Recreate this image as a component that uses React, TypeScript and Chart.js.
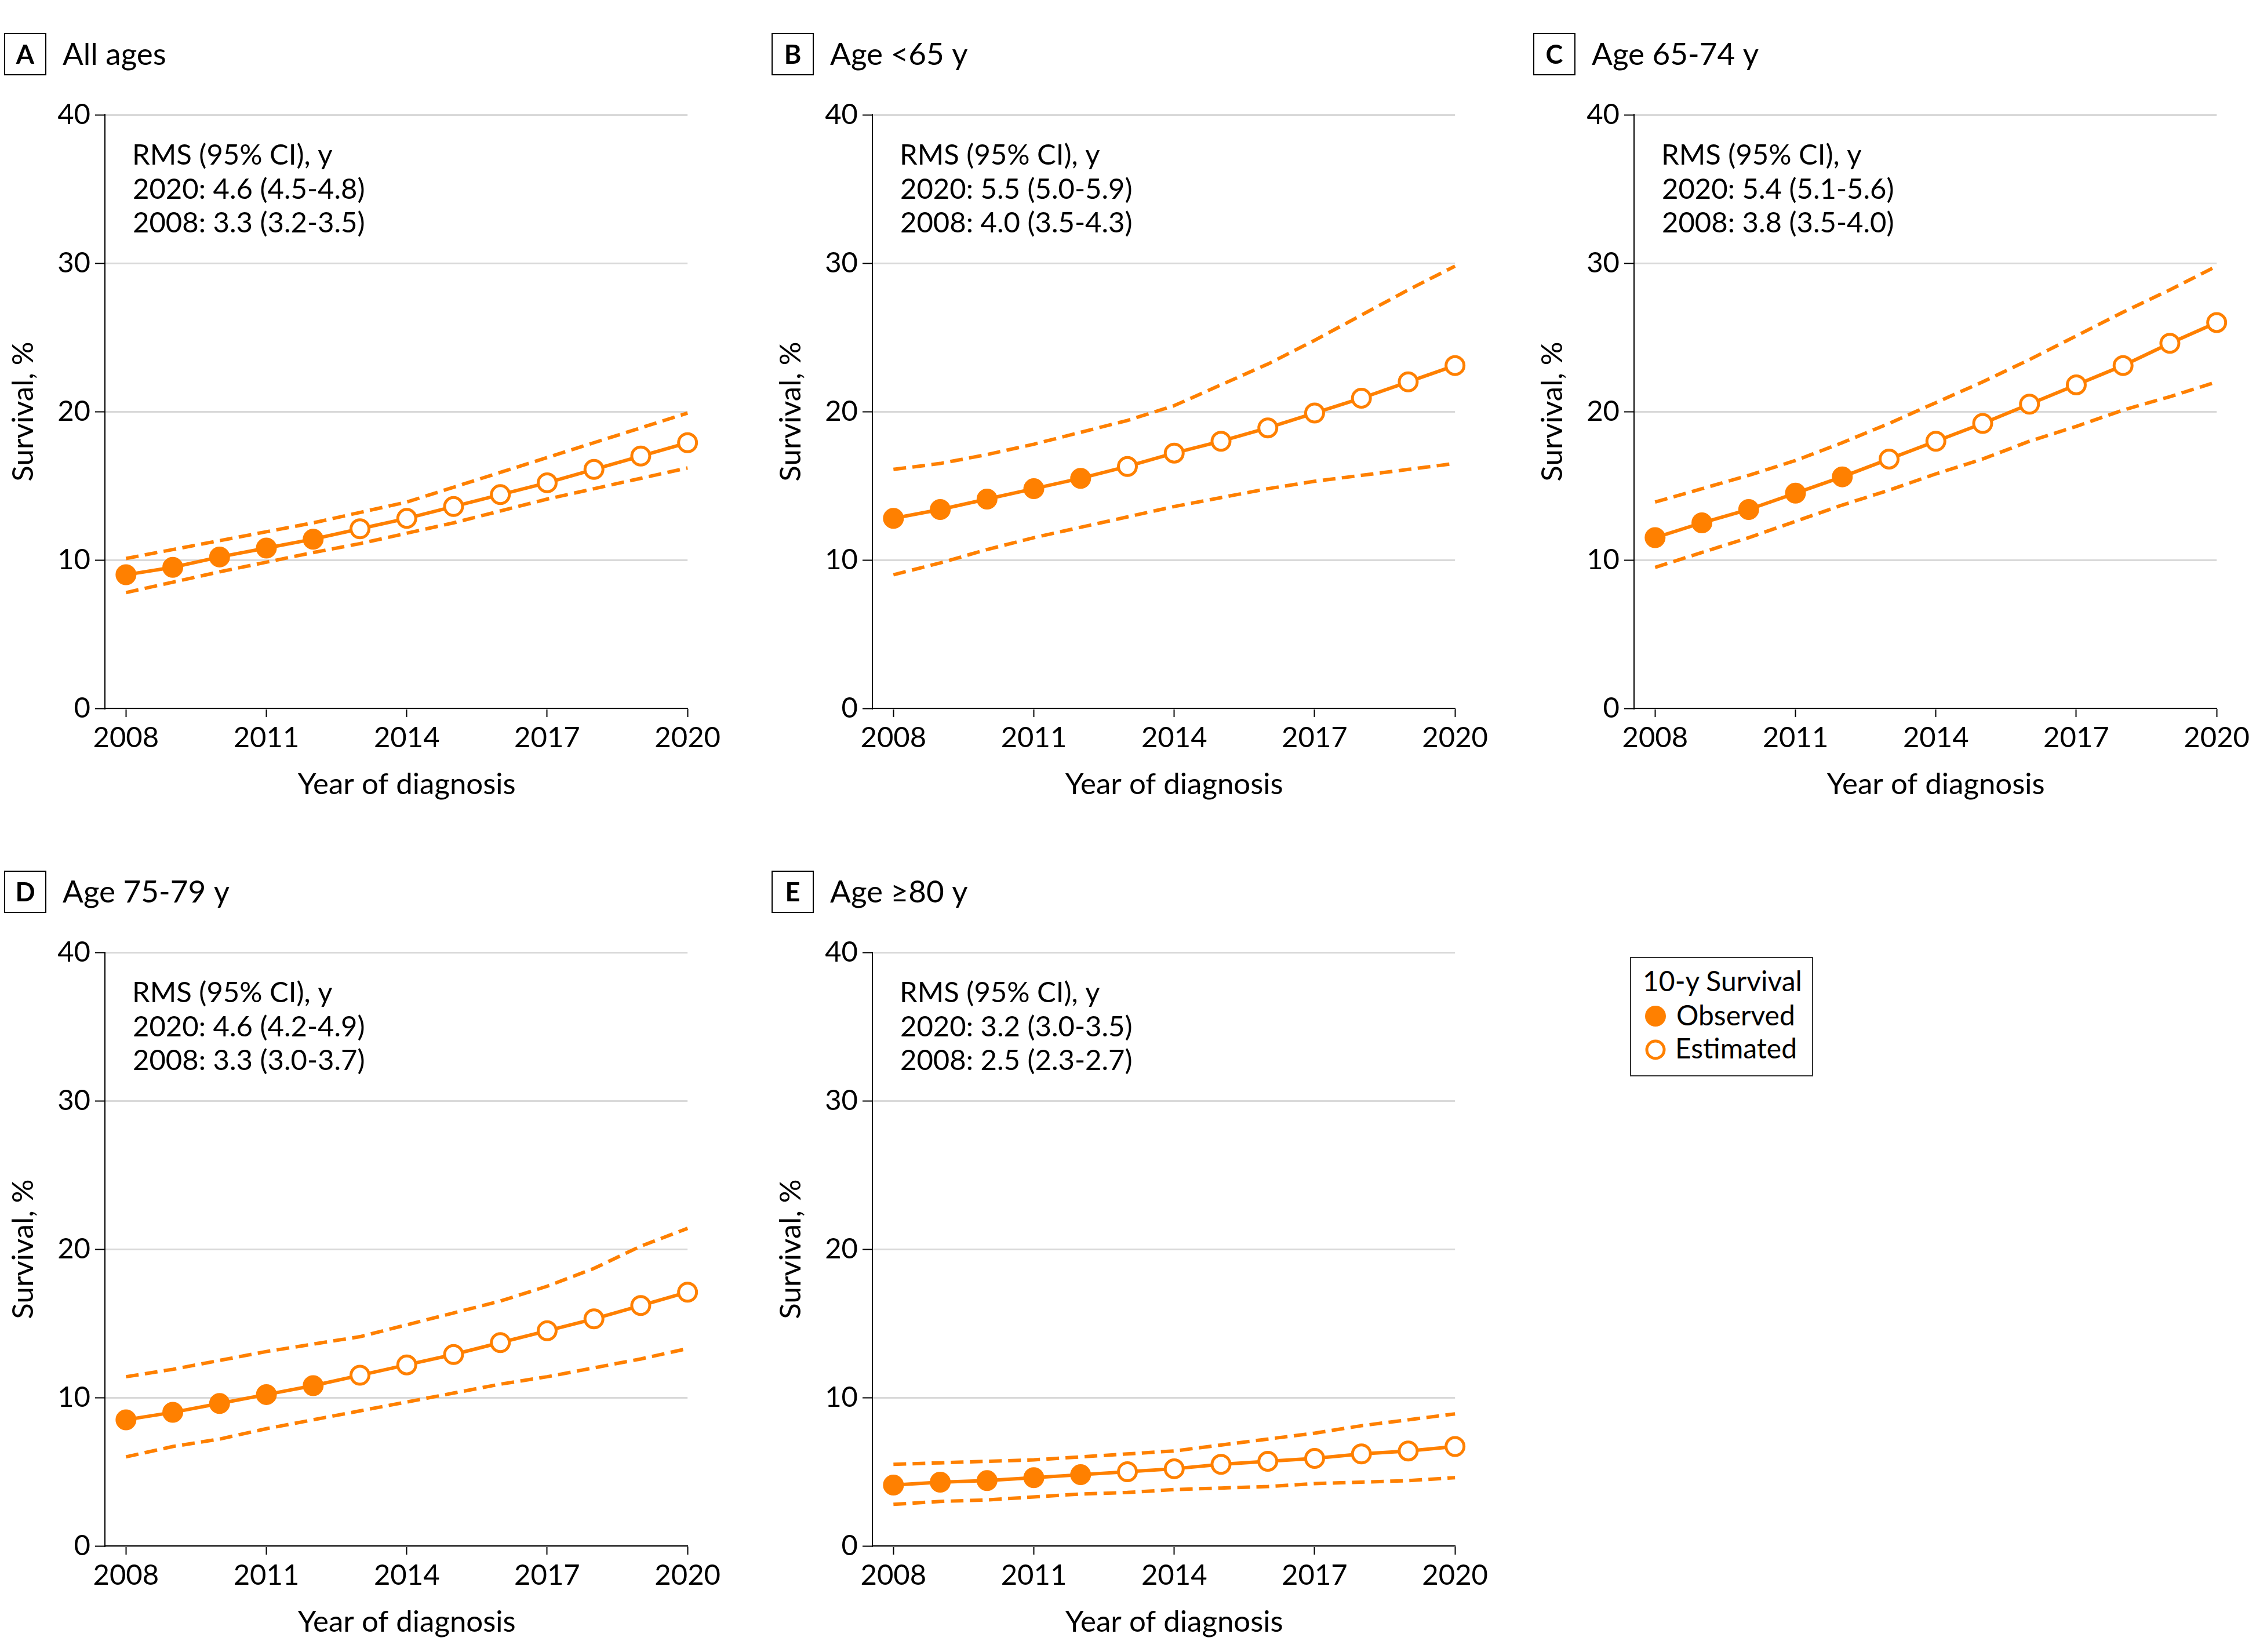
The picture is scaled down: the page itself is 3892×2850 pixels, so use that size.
import React, { useEffect, useRef } from 'react';
import { Chart, registerables } from 'chart.js';

Chart.register(...registerables);
Chart.defaults.font.family = 'Lato';
Chart.defaults.color = '#000';

// ---------- data ----------
const years = [2008, 2009, 2010, 2011, 2012, 2013, 2014, 2015, 2016, 2017, 2018, 2019, 2020];
const xTickValues = [2008, 2011, 2014, 2017, 2020];
const observedYears = [2008, 2009, 2010, 2011, 2012];

const panelLetters = ['A', 'B', 'C', 'D', 'E'];
const panelTitles = ['All ages', 'Age <65 y', 'Age 65-74 y', 'Age 75-79 y', 'Age \u226580 y'];
const rmsHeader = 'RMS (95% CI), y';
const rms2020 = ['2020: 4.6 (4.5-4.8)', '2020: 5.5 (5.0-5.9)', '2020: 5.4 (5.1-5.6)', '2020: 4.6 (4.2-4.9)', '2020: 3.2 (3.0-3.5)'];
const rms2008 = ['2008: 3.3 (3.2-3.5)', '2008: 4.0 (3.5-4.3)', '2008: 3.8 (3.5-4.0)', '2008: 3.3 (3.0-3.7)', '2008: 2.5 (2.3-2.7)'];
const xAxisTitle = 'Year of diagnosis';
const yAxisTitle = 'Survival, %';

const allMid = [9.0, 9.5, 10.2, 10.8, 11.4, 12.1, 12.8, 13.6, 14.4, 15.2, 16.1, 17.0, 17.9];
const allHigh = [10.1, 10.7, 11.3, 11.9, 12.5, 13.2, 13.9, 14.9, 15.9, 16.9, 17.9, 18.9, 19.9];
const allLow = [7.8, 8.5, 9.2, 9.85, 10.5, 11.1, 11.8, 12.5, 13.3, 14.1, 14.8, 15.5, 16.2];

const u65Mid = [12.8, 13.4, 14.1, 14.8, 15.5, 16.3, 17.2, 18.0, 18.9, 19.9, 20.9, 22.0, 23.1];
const u65High = [16.1, 16.5, 17.1, 17.8, 18.6, 19.4, 20.4, 21.8, 23.2, 24.8, 26.5, 28.2, 29.8];
const u65Low = [9.0, 9.8, 10.7, 11.5, 12.2, 12.9, 13.6, 14.2, 14.8, 15.3, 15.7, 16.1, 16.5];

const a6574Mid = [11.5, 12.5, 13.4, 14.5, 15.6, 16.8, 18.0, 19.2, 20.5, 21.8, 23.1, 24.6, 26.0];
const a6574High = [13.9, 14.8, 15.7, 16.7, 17.9, 19.2, 20.6, 22.0, 23.5, 25.1, 26.7, 28.2, 29.8];
const a6574Low = [9.5, 10.5, 11.5, 12.6, 13.7, 14.7, 15.8, 16.8, 18.0, 19.0, 20.1, 21.0, 22.0];

const a7579Mid = [8.5, 9.0, 9.6, 10.2, 10.8, 11.5, 12.2, 12.9, 13.7, 14.5, 15.3, 16.2, 17.1];
const a7579High = [11.4, 11.9, 12.5, 13.1, 13.6, 14.1, 14.9, 15.7, 16.5, 17.5, 18.7, 20.2, 21.4];
const a7579Low = [6.0, 6.7, 7.2, 7.9, 8.5, 9.1, 9.7, 10.3, 10.9, 11.4, 12.0, 12.6, 13.3];

const o80Mid = [4.1, 4.3, 4.4, 4.6, 4.8, 5.0, 5.2, 5.5, 5.7, 5.9, 6.2, 6.4, 6.7];
const o80High = [5.5, 5.6, 5.7, 5.8, 6.0, 6.2, 6.4, 6.8, 7.2, 7.6, 8.1, 8.5, 8.9];
const o80Low = [2.8, 3.0, 3.1, 3.3, 3.5, 3.6, 3.8, 3.9, 4.0, 4.2, 4.3, 4.4, 4.6];

const midSeries = [allMid, u65Mid, a6574Mid, a7579Mid, o80Mid];
const highSeries = [allHigh, u65High, a6574High, a7579High, o80High];
const lowSeries = [allLow, u65Low, a6574Low, a7579Low, o80Low];

const legendTitle = '10-y Survival';
const legendObserved = 'Observed';
const legendEstimated = 'Estimated';

// ---------- styling / layout ----------
const ORANGE = '#FF8000';
const CANVAS_W = 1250;
const CANVAS_H = 1400;
const panelPos = [
  { left: 0, top: 0 },
  { left: 1324, top: 0 },
  { left: 2638, top: 0 },
  { left: 0, top: 1445 },
  { left: 1324, top: 1445 },
];

function Panel({ idx }: { idx: number }) {
  const ref = useRef<HTMLCanvasElement | null>(null);

  useEffect(() => {
    const canvas = ref.current;
    if (!canvas) return;

    const textPlugin = {
      id: 'panelText',
      afterDraw(chart: any) {
        const ctx = chart.ctx as CanvasRenderingContext2D;
        ctx.save();
        ctx.strokeStyle = '#000';
        ctx.lineWidth = 2;
        ctx.strokeRect(8, 58, 71, 71);
        ctx.fillStyle = '#000';
        ctx.textAlign = 'center';
        ctx.textBaseline = 'alphabetic';
        ctx.font = 'bold 45px Lato';
        ctx.fillText(panelLetters[idx], 43.5, 110);
        ctx.textAlign = 'left';
        ctx.font = '53px Lato';
        ctx.fillText(panelTitles[idx], 108, 112);
        ctx.font = '49px Lato';
        ctx.fillText(rmsHeader, 228, 284);
        ctx.fillText(rms2020[idx], 229, 343);
        ctx.fillText(rms2008[idx], 229, 401);
        // x-axis title centred on the 2008-2020 data range
        const xs = chart.scales.x;
        const cx = (xs.getPixelForValue(years[0]) + xs.getPixelForValue(years[years.length - 1])) / 2;
        ctx.textAlign = 'center';
        ctx.textBaseline = 'middle';
        ctx.font = '51px Lato';
        ctx.fillText(xAxisTitle, cx, 1354);
        ctx.restore();
      },
    };

    const toPts = (arr: number[]) => years.map((x, i) => ({ x, y: arr[i] }));

    const chart = new Chart(canvas, {
      type: 'line',
      data: {
        datasets: [
          {
            data: toPts(highSeries[idx]),
            borderColor: ORANGE,
            borderWidth: 6,
            borderDash: [22, 11],
            pointRadius: 0,
            fill: false,
            tension: 0,
            clip: false as any,
          },
          {
            data: toPts(lowSeries[idx]),
            borderColor: ORANGE,
            borderWidth: 6,
            borderDash: [22, 11],
            pointRadius: 0,
            fill: false,
            tension: 0,
            clip: false as any,
          },
          {
            data: toPts(midSeries[idx]),
            borderColor: ORANGE,
            borderWidth: 6,
            pointRadius: 15.5,
            pointBorderWidth: 5,
            pointBorderColor: ORANGE,
            pointBackgroundColor: years.map((y) => (observedYears.includes(y) ? ORANGE : '#FFFFFF')),
            fill: false,
            tension: 0,
            clip: false as any,
          },
        ],
      },
      options: {
        responsive: false,
        maintainAspectRatio: false,
        animation: false,
        events: [],
        layout: { padding: { top: 198, left: 0, right: CANVAS_W - 1188, bottom: 16 } },
        plugins: {
          legend: { display: false },
          tooltip: { enabled: false },
          title: { display: false },
        },
        scales: {
          x: {
            type: 'linear',
            min: 2007.55,
            max: 2020,
            afterBuildTicks: (s: any) => {
              s.ticks = xTickValues.map((v) => ({ value: v }));
            },
            afterFit: (s: any) => {
              s.height = 162;
            },
            grid: {
              drawOnChartArea: false,
              drawTicks: true,
              tickLength: 15,
              tickColor: '#000',
              tickWidth: 2,
            },
            border: { display: true, color: '#000', width: 2 },
            ticks: {
              callback: (v: any) => String(v),
              padding: 7,
              color: '#000',
              font: { size: 49 },
              maxRotation: 0,
              autoSkip: false,
            },
            title: { display: false },
          },
          y: {
            type: 'linear',
            min: 0,
            max: 40,
            afterFit: (s: any) => {
              s.width = 181;
            },
            grid: {
              color: '#D9D9D9',
              lineWidth: 3,
              drawTicks: true,
              tickLength: 17,
              tickColor: '#000',
              tickWidth: 2,
            },
            border: { display: true, color: '#000', width: 2 },
            ticks: {
              stepSize: 10,
              padding: 8,
              color: '#000',
              font: { size: 49 },
            },
            title: {
              display: true,
              text: yAxisTitle,
              color: '#000',
              font: { size: 51 },
              padding: { top: 10, bottom: 0 },
            },
          },
        },
      } as any,
      plugins: [textPlugin],
    });

    return () => chart.destroy();
  }, [idx]);

  const pos = panelPos[idx];
  return (
    <canvas
      ref={ref}
      width={CANVAS_W}
      height={CANVAS_H}
      style={{ position: 'absolute', left: pos.left, top: pos.top, width: CANVAS_W, height: CANVAS_H, display: 'block' }}
    />
  );
}

function Legend() {
  return (
    <svg
      width={340}
      height={230}
      style={{ position: 'absolute', left: 2800, top: 1640 }}
      fontFamily="Lato"
    >
      <rect x={13} y={12} width={314} height={204} fill="#fff" stroke="#333" strokeWidth={2} />
      <text x={34} y={70} fontSize={48} fill="#000">{legendTitle}</text>
      <circle cx={56} cy={113} r={18} fill={ORANGE} />
      <text x={92} y={129} fontSize={48} fill="#000">{legendObserved}</text>
      <circle cx={56} cy={171} r={15} fill="#fff" stroke={ORANGE} strokeWidth={5} />
      <text x={90} y={186} fontSize={48} fill="#000">{legendEstimated}</text>
    </svg>
  );
}

export default function App() {
  return (
    <div
      style={{
        position: 'absolute',
        left: 0,
        top: 0,
        width: 3892,
        height: 2850,
        overflow: 'hidden',
        background: '#fff',
      }}
    >
      {[0, 1, 2, 3, 4].map((i) => (
        <Panel key={i} idx={i} />
      ))}
      <Legend />
    </div>
  );
}
